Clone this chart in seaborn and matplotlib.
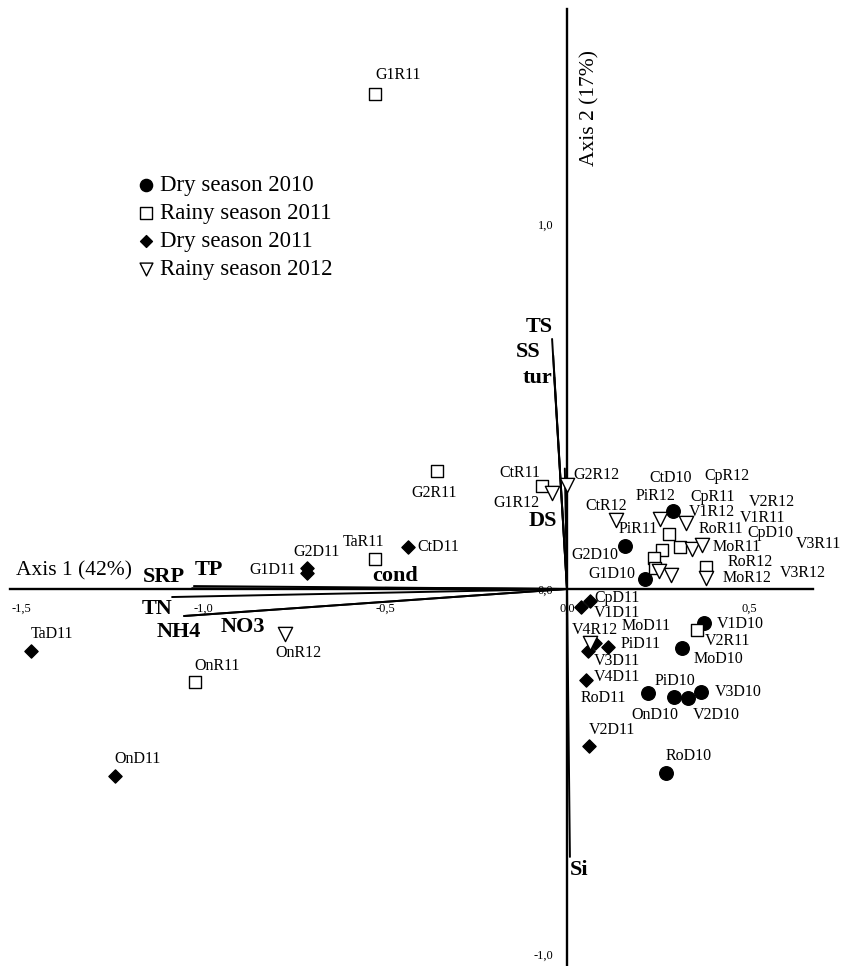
import numpy as np
import pandas as pd
import matplotlib
matplotlib.use("Agg")
import matplotlib.pyplot as plt
import seaborn as sns

# --- sample scores (axis 1, axis 2) per season ---
dry10_x = [0.291, 0.159, 0.214, 0.376, 0.316, 0.223, 0.294, 0.332, 0.368, 0.272]
dry10_y = [0.214, 0.118, 0.027, -0.093, -0.162, -0.285, -0.296, -0.299, -0.282, -0.504]

rainy11_x = [-0.527, -0.357, -0.069, -0.527, -1.022, 0.357, 0.280, 0.261, 0.310, 0.239, 0.242, 0.382]
rainy11_y = [1.356, 0.323, 0.282, 0.082, -0.255, -0.112, 0.151, 0.107, 0.115, 0.085, 0.058, 0.060]

dry11_x = [-1.473, -1.242, -0.714, -0.714, -0.437, 0.063, 0.038, 0.077, 0.113, 0.058, 0.052, 0.060]
dry11_y = [-0.170, -0.512, 0.058, 0.044, 0.115, -0.033, -0.049, -0.148, -0.159, -0.170, -0.249, -0.430]

rainy12_x = [-0.775, -0.041, 0.0, 0.135, 0.255, 0.327, 0.343, 0.371, 0.253, 0.286, 0.382, 0.063]
rainy12_y = [-0.123, 0.263, 0.285, 0.189, 0.192, 0.181, 0.110, 0.121, 0.049, 0.038, 0.030, -0.148]

seasons = ["Dry season 2010", "Rainy season 2011", "Dry season 2011", "Rainy season 2012"]

# --- sample names and where they are written ---
sample_names = ["G1R11", "G2R11", "CtR11", "G1R12", "G2R12", "CtD10", "CpR12", "PiR12",
                "CpR11", "V2R12", "CtR12", "V1R12", "V1R11", "PiR11", "RoR11", "CpD10",
                "MoR11", "V3R11", "G2D10", "RoR12", "G1D10", "V3R12", "MoR12", "CpD11",
                "V1D11", "V1D10", "V4R12", "MoD11", "V2R11", "PiD11", "V3D11", "MoD10",
                "V4D11", "PiD10", "V3D10", "RoD11", "OnD10", "V2D10", "V2D11", "RoD10",
                "TaD11", "TaR11", "CtD11", "G2D11", "G1D11", "OnR12", "OnR11", "OnD11"]
name_x = [-0.464, -0.365, -0.129, -0.140, 0.082, 0.286, 0.440, 0.242,
          0.401, 0.563, 0.107, 0.398, 0.536, 0.195, 0.423, 0.560,
          0.467, 0.690, 0.077, 0.503, 0.124, 0.648, 0.495, 0.137,
          0.137, 0.476, 0.077, 0.217, 0.442, 0.201, 0.137, 0.415,
          0.137, 0.297, 0.470, 0.099, 0.242, 0.409, 0.124, 0.335,
          -1.415, -0.560, -0.354, -0.687, -0.808, -0.739, -0.962, -1.181]
name_y = [1.408, 0.263, 0.318, 0.236, 0.312, 0.304, 0.310, 0.255,
          0.252, 0.238, 0.227, 0.211, 0.195, 0.164, 0.164, 0.153,
          0.115, 0.123, 0.093, 0.074, 0.041, 0.044, 0.030, -0.025,
          -0.066, -0.097, -0.112, -0.101, -0.142, -0.151, -0.197, -0.192,
          -0.241, -0.252, -0.282, -0.299, -0.345, -0.345, -0.386, -0.458,
          -0.123, 0.129, 0.115, 0.101, 0.052, -0.175, -0.211, -0.466]

# --- environmental variables (arrow tips and label spots) ---
env_names = ["TS", "SS", "tur", "DS", "Si", "TP", "SRP", "TN", "NH4", "NO3", "cond"]
env_x = [-0.041, -0.038, -0.035, -0.006, 0.008, -1.025, -1.030, -1.085, -1.052, -1.052, -0.500]
env_y = [0.685, 0.640, 0.580, 0.330, -0.734, 0.008, 0.002, -0.022, -0.074, -0.074, 0.003]
env_lab_x = [-0.077, -0.107, -0.082, -0.066, 0.033, -0.984, -1.107, -1.126, -1.066, -0.890, -0.473]
env_lab_y = [0.718, 0.649, 0.578, 0.186, -0.770, 0.052, 0.033, -0.055, -0.118, -0.104, 0.036]

xticks = [-1.5, -1.0, -0.5, 0.0, 0.5]
xtick_labels = ["-1,5", "-1,0", "-0,5", "0,0", "0,5"]
yticks = [-1.0, -0.5, 0.0, 0.5, 1.0, 1.5]
ytick_labels = ["-1,0", "", "0,0", "", "1,0", ""]

df = pd.concat([
    pd.DataFrame({"x": dry10_x, "y": dry10_y, "season": seasons[0]}),
    pd.DataFrame({"x": rainy11_x, "y": rainy11_y, "season": seasons[1]}),
    pd.DataFrame({"x": dry11_x, "y": dry11_y, "season": seasons[2]}),
    pd.DataFrame({"x": rainy12_x, "y": rainy12_y, "season": seasons[3]}),
], ignore_index=True)

sns.set_style("white")
plt.rcParams["font.family"] = ["Liberation Serif", "DejaVu Serif"]
plt.rcParams["text.color"] = "black"
plt.rcParams["xtick.color"] = "black"
plt.rcParams["ytick.color"] = "black"

fig = plt.figure(figsize=(8.49, 9.66), dpi=100)
ax = fig.add_axes([0, 0, 1, 1])
ax.set_xlim(-1.5577, 0.7747)
ax.set_ylim(-1.0329, 1.6137)

# vectors
for ex, ey in zip(env_x, env_y):
    ax.plot([0, ex], [0, ey], color="black", lw=1.4, zorder=2)
for name, lx, ly in zip(env_names, env_lab_x, env_lab_y):
    ax.text(lx, ly, name, fontsize=16, fontweight="bold", ha="center", va="center", zorder=4)

# samples
styles = {
    seasons[0]: dict(marker="o", s=95, facecolor="black"),
    seasons[1]: dict(marker="s", s=85, facecolor="white"),
    seasons[2]: dict(marker="D", s=45, facecolor="black"),
    seasons[3]: dict(marker="v", s=105, facecolor="white"),
}
for season in seasons:
    sub = df[df["season"] == season]
    st = styles[season]
    sns.scatterplot(data=sub, x="x", y="y", marker=st["marker"], s=st["s"],
                    facecolor=st["facecolor"], edgecolor="black", linewidth=1.0,
                    label=season, ax=ax, zorder=3)

for name, lx, ly in zip(sample_names, name_x, name_y):
    ax.text(lx, ly, name, fontsize=11.5, ha="center", va="center", zorder=4)

# axes through the origin
for side in ["top", "right"]:
    ax.spines[side].set_visible(False)
ax.spines["left"].set_position(("data", 0))
ax.spines["bottom"].set_position(("data", 0))
ax.spines["left"].set_bounds(-1.04, 1.59)
ax.spines["bottom"].set_bounds(-1.53, 0.676)
for side in ["left", "bottom"]:
    ax.spines[side].set_linewidth(1.7)
    ax.spines[side].set_color("black")
ax.set_xticks(xticks, xtick_labels)
ax.set_yticks(yticks, ytick_labels)
ax.tick_params(axis="both", direction="out", length=4, width=1.3, labelsize=9,
               colors="black")
ax.tick_params(axis="x", pad=6)
ax.tick_params(axis="y", pad=6)
ax.set_xlabel("")
ax.set_ylabel("")

ax.text(-1.514, 0.049, "Axis 1 (42%)", fontsize=15.5, ha="left", va="center")
ax.text(0.063, 1.318, "Axis 2 (17%)", fontsize=15.5, rotation=90, ha="center", va="center")

ax.legend(loc="upper left", bbox_to_anchor=(137 / 849, 1 - 175 / 966), frameon=False,
          fontsize=16.5, handlelength=0.8, handletextpad=0.2, labelspacing=0.3,
          borderpad=0, borderaxespad=0, markerscale=0.9)

fig.savefig("out.png", dpi=100)
